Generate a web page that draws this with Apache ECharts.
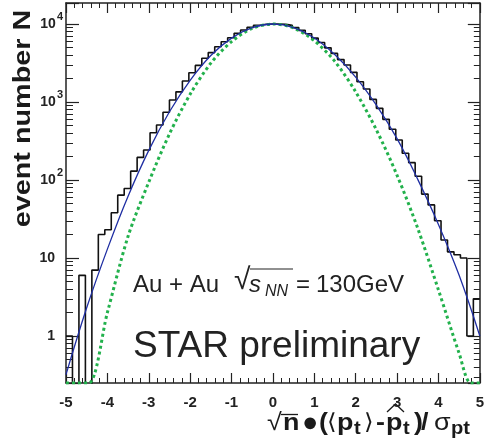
<!DOCTYPE html>
<html><head><meta charset="utf-8">
<script src="https://cdn.jsdelivr.net/npm/echarts@6/dist/echarts.min.js"></script>
<style>html,body{margin:0;padding:0;background:#fff}#c{width:487px;height:447px}</style>
</head><body><div id="c"></div>
<script>
// ---- data ----
const xRange = [-5, 5];
const nBins = 64;
const counts = [1, 0, 6, 0, 7, 20, 23, 38, 64, 78, 130, 195, 243, 403, 507, 738,
  1062, 1350, 1860, 2376, 2950, 3635, 4300, 5120, 5930, 6670, 7590, 8380, 9060, 9620, 9950, 10000,
  10000, 9900, 9600, 9000, 8300, 7500, 6600, 5800, 4950, 4200, 3500, 2980, 2400, 1820, 1470, 1080,
  830, 600, 447, 326, 220, 167, 112, 66, 48, 30, 17, 12, 11, 10, 1, 3];
const blueX = [-5, -4.5, -4, -3.5, -3, -2.5, -2, -1.5, -1, -0.5, 0, 0.5, 1, 1.5, 2, 2.5, 3, 3.5, 4, 4.5, 5];
const blueY = [0.32, 2.3, 13, 62, 240, 750, 1900, 3950, 6600, 9000, 10000, 9020, 6610, 4030, 2090, 912, 339, 102, 27, 6.0, 1.0];
const greenX = [-5, -4.75, -4.45, -4, -3.5, -3, -2.5, -2, -1.5, -1, -0.5, 0, 0.5, 1, 1.5, 2, 2.5, 3, 3.5, 4, 4.5, 4.78, 5];
const greenY = [0.25, 0.25, 0.25, 2.0, 19, 94, 390, 1260, 3150, 5950, 8800, 10000, 8900, 6100, 3300, 1350, 440, 115, 24, 3.9, 0.6, 0.25, 0.25];
const xTickLabels = [-5, -4, -3, -2, -1, 0, 1, 2, 3, 4, 5];
const yMin = 0.25, yMax = 18600;

// ---- build ----
const FF = '"Liberation Sans", Arial, Helvetica, sans-serif';
const binW = (xRange[1] - xRange[0]) / nBins;
const histPts = [];
counts.forEach((c, i) => {
  const lo = xRange[0] + i * binW, hi = lo + binW;
  const v = c > 0 ? c : 1e-3; // empty bins drop below the axis floor
  histPts.push([lo, v], [hi, v]);
});
const bluePts = blueX.map((x, i) => [x, blueY[i]]);
const greenPts = greenX.map((x, i) => [x, greenY[i]]);
const minorLogs = [];
for (let d = -1; d <= 4; d++) for (let m = 2; m <= 9; m++) {
  const v = m * Math.pow(10, d);
  if (v > yMin && v < yMax) minorLogs.push(Math.log10(v));
}
const lmin = Math.log10(yMin), lmax = Math.log10(yMax);
const AX = '#222';
const TXT = '#1a1a1a';

function yFmt(v) {
  const e = Math.round(Math.log10(v));
  if (Math.abs(v - Math.pow(10, e)) > 1e-6 * v) return '';
  if (e === 0) return '{p|1}';
  if (e === 1) return '{p|10}';
  return '{b|10}{s|' + e + '}';
}

const xAxisBase = {
  type: 'value', min: xRange[0], max: xRange[1], interval: 1,
  axisLine: { onZero: false, lineStyle: { color: AX, width: 1.5 } },
  axisTick: { inside: true, length: 10, lineStyle: { color: AX, width: 1.2 } },
  minorTick: { show: true, splitNumber: 5, length: 5, lineStyle: { color: AX, width: 1 } },
  splitLine: { show: false }, minorSplitLine: { show: false }
};

// helper for pieces of the math-style titles
function T(x, y, text, size, opts) {
  opts = opts || {};
  return {
    type: 'text', x: x, y: y, scaleX: opts.sx || 1,
    style: {
      text: text, fontSize: size, fontWeight: opts.bold ? 'bold' : 'normal',
      fontStyle: opts.italic ? 'italic' : 'normal', fontFamily: FF,
      fill: opts.fill || TXT, verticalAlign: 'middle'
    }
  };
}
const SX = 1.12;

const chart = echarts.init(document.getElementById('c'), null, { renderer: 'canvas' });
chart.setOption({
  animation: false,
  backgroundColor: '#fff',
  grid: { left: 66, right: 5, top: 3, bottom: 64, containLabel: false },
  xAxis: [
    Object.assign({}, xAxisBase, {
      position: 'bottom',
      axisLabel: {
        fontSize: 15, fontWeight: 'bold', color: AX, margin: 12, fontFamily: FF,
        showMinLabel: true, showMaxLabel: true, hideOverlap: false,
        formatter: v => (xTickLabels.indexOf(Math.round(v)) >= 0 ? String(Math.round(v)) : '')
      }
    }),
    Object.assign({}, xAxisBase, { position: 'top', axisLabel: { show: false } })
  ],
  yAxis: [
    {
      type: 'log', min: yMin, max: yMax, position: 'left',
      axisLine: { onZero: false, lineStyle: { color: AX, width: 1.5 } },
      axisTick: { inside: true, length: 13, lineStyle: { color: AX, width: 1.2 } },
      splitLine: { show: false },
      axisLabel: {
        margin: 3, formatter: yFmt, showMinLabel: true, showMaxLabel: true,
        rich: {
          p: { fontSize: 14, fontWeight: 'bold', color: AX, fontFamily: FF, padding: [0, 8, 0, 0] },
          b: { fontSize: 14, fontWeight: 'bold', color: AX, fontFamily: FF, lineHeight: 26 },
          s: { fontSize: 11, fontWeight: 'bold', color: AX, fontFamily: FF, verticalAlign: 'top', lineHeight: 12, padding: [0, 0, 0, 1] }
        }
      }
    },
    {
      type: 'value', min: lmin, max: lmax, position: 'left',
      axisLine: { show: false, onZero: false }, axisLabel: { show: false }, splitLine: { show: false },
      axisTick: { inside: true, length: 7, customValues: minorLogs, lineStyle: { color: AX, width: 1 } }
    },
    {
      type: 'log', min: yMin, max: yMax, position: 'right',
      axisLine: { onZero: false, lineStyle: { color: AX, width: 1.5 } },
      axisTick: { inside: true, length: 12, lineStyle: { color: AX, width: 1.2 } },
      splitLine: { show: false }, axisLabel: { show: false }
    },
    {
      type: 'value', min: lmin, max: lmax, position: 'right',
      axisLine: { show: false, onZero: false }, axisLabel: { show: false }, splitLine: { show: false },
      axisTick: { inside: true, length: 6, customValues: minorLogs, lineStyle: { color: AX, width: 1 } }
    }
  ],
  series: [
    { type: 'line', name: 'data', data: histPts, xAxisIndex: 0, yAxisIndex: 0, symbol: 'none',
      lineStyle: { color: '#111', width: 1.6 }, clip: true, z: 2, silent: true },
    { type: 'line', name: 'gauss', data: greenPts, xAxisIndex: 0, yAxisIndex: 0, symbol: 'none', smooth: 0.3,
      lineStyle: { color: '#22b14c', width: 3, type: [3, 3], cap: 'butt' }, clip: true, z: 3, silent: true },
    { type: 'line', name: 'fit', data: bluePts, xAxisIndex: 0, yAxisIndex: 0, symbol: 'none', smooth: 0.4,
      lineStyle: { color: '#1f2ea3', width: 1.3 }, clip: true, z: 4, silent: true }
  ],
  graphic: [
    { type: 'text', x: 23, y: 118.5, rotation: Math.PI / 2, scaleX: 1.2,
      style: { text: 'event number N', fontSize: 24, fontWeight: 'bold', fontFamily: FF, fill: TXT, align: 'center', verticalAlign: 'middle' } },
    // x-axis title: sqrt(n) • (<p_t> - p^_t) / sigma_pt
    T(267, 423.3, '√', 24, { sx: SX }),
    { type: 'line', shape: { x1: 281, y1: 414.5, x2: 298, y2: 414.5 }, style: { stroke: TXT, lineWidth: 1.3 } },
    T(283, 423.3, 'n', 24, { bold: true, sx: SX }),
    T(302, 424, '●', 27),
    T(319, 423.3, '(', 24, { bold: true, sx: SX }),
    T(327, 423.3, '⟨', 22, { sx: SX }),
    T(337, 423.3, 'p', 24, { bold: true, sx: SX }),
    T(354, 428.7, 't', 18, { bold: true, sx: SX }),
    T(364, 423.3, '⟩', 22, { sx: SX }),
    T(376, 423.3, '-', 24, { bold: true, sx: SX }),
    T(386, 423.3, 'p', 24, { bold: true, sx: SX }),
    { type: 'polyline', shape: { points: [[387, 412], [395.5, 404], [404, 412]] }, style: { stroke: TXT, lineWidth: 1.3, fill: null } },
    T(403, 428.7, 't', 18, { bold: true, sx: SX }),
    T(414, 423.3, ')', 24, { bold: true, sx: SX }),
    T(421, 423.3, '/', 24, { bold: true, sx: SX }),
    T(434, 423.3, 'σ', 24, { sx: SX }),
    T(451, 428.7, 'pt', 18, { bold: true, sx: SX }),
    // annotation
    T(133, 285.6, 'Au + Au', 24, { fill: '#222' }),
    T(234, 281, '√', 30, { fill: '#222' }),
    { type: 'line', shape: { x1: 250, y1: 269, x2: 293, y2: 269 }, style: { stroke: '#222', lineWidth: 1.2 } },
    T(249, 285.6, 's', 24, { italic: true, fill: '#222' }),
    T(265, 291.4, 'NN', 16, { italic: true, fill: '#222' }),
    T(296, 285.6, '=', 24, { fill: '#222' }),
    T(316, 285.6, '130GeV', 24, { fill: '#222' }),
    T(133, 347, 'STAR preliminary', 37, { fill: '#222' })
  ]
});
</script></body></html>
